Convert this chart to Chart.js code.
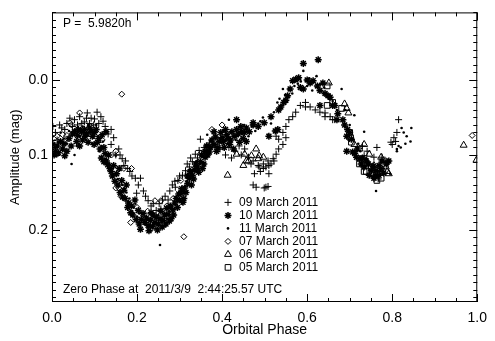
<!DOCTYPE html>
<html>
<head>
<meta charset="utf-8">
<script src="https://cdn.jsdelivr.net/npm/chart.js@4.4.1/dist/chart.umd.min.js"></script>
<style>
  html, body { margin: 0; padding: 0; background: #fff; }
</style>
</head>
<body>
<canvas id="lightcurve" width="495" height="341"></canvas>
<script>
// [orbital phase, amplitude (mag)] per night
var mar09 = [
  [0.002,0.062],[0.018,0.060],[0.023,0.064],[0.030,0.066],[0.012,0.080],[0.042,0.051],[0.053,0.053],
  [0.060,0.060],[0.070,0.058],[0.081,0.051],[0.083,0.044],[0.092,0.051],[0.106,0.043],[0.115,0.049],
  [0.098,0.060],[0.125,0.062],[0.139,0.066],[0.145,0.077],[0.139,0.086],[0.157,0.092],[0.150,0.100],
  [0.173,0.108],[0.169,0.114],[0.183,0.122],[0.196,0.131],[0.208,0.131],[0.215,0.148],[0.199,0.151],
  [0.226,0.161],[0.233,0.168],[0.245,0.174],[0.252,0.165],[0.260,0.160],[0.266,0.155],[0.273,0.160],
  [0.277,0.148],[0.289,0.135],[0.296,0.134],[0.290,0.143],[0.307,0.127],[0.314,0.121],[0.323,0.116],
  [0.330,0.109],[0.337,0.099],[0.342,0.104],[0.349,0.079],[0.358,0.090],[0.370,0.084],[0.388,0.077],
  [0.400,0.083],[0.416,0.090],[0.430,0.095],[0.440,0.088],
  [0.008,0.070],[0.035,0.058],[0.048,0.062],[0.065,0.049],[0.076,0.056],[0.088,0.058],[0.100,0.052],
  [0.110,0.058],[0.120,0.055],[0.132,0.072],[0.160,0.100],[0.165,0.105],[0.178,0.118],[0.188,0.128],
  [0.203,0.140],[0.220,0.155],[0.238,0.165],[0.256,0.172],[0.283,0.140],[0.300,0.128],[0.318,0.112],
  [0.326,0.104],[0.346,0.094],[0.365,0.095],[0.378,0.088],[0.395,0.092],[0.408,0.100],[0.422,0.104],
  [0.445,0.100],[0.468,0.112],[0.490,0.122],[0.515,0.112],
  [0.453,0.092],[0.462,0.103],[0.473,0.108],[0.476,0.125],[0.485,0.114],[0.487,0.116],[0.497,0.112],
  [0.497,0.118],[0.503,0.116],[0.508,0.108],[0.510,0.114],[0.520,0.105],[0.522,0.108],[0.527,0.099],
  [0.533,0.092],[0.533,0.079],[0.543,0.086],[0.543,0.070],[0.550,0.077],[0.550,0.062],[0.557,0.053],
  [0.566,0.049],[0.573,0.043],[0.584,0.034],[0.596,0.030],[0.596,0.036],[0.607,0.036],[0.619,0.040],
  [0.630,0.043],[0.642,0.044],[0.642,0.049],[0.654,0.049],[0.660,0.053],[0.665,0.053],[0.527,0.075],
  [0.473,0.140],[0.480,0.143],[0.499,0.144],[0.503,0.143],[0.508,0.142],[0.510,0.125],
  [0.730,0.088],[0.741,0.095],[0.734,0.101],[0.757,0.103],[0.764,0.090],[0.776,0.103],[0.785,0.108],
  [0.788,0.109],[0.767,0.132],[0.776,0.122],[0.797,0.083],[0.800,0.086],[0.804,0.077],[0.808,0.082],
  [0.811,0.070],[0.815,0.053]
];
var mar10 = [
  [0.002,0.086],[0.008,0.095],[0.012,0.088],[0.025,0.092],[0.030,0.101],[0.020,0.082],[0.040,0.078],
  [0.053,0.069],[0.058,0.082],[0.060,0.074],[0.065,0.088],[0.069,0.069],[0.076,0.066],[0.082,0.072],
  [0.088,0.064],[0.095,0.075],[0.099,0.086],[0.104,0.066],[0.110,0.078],[0.118,0.073],[0.122,0.090],
  [0.127,0.069],[0.122,0.109],[0.128,0.108],[0.133,0.100],[0.139,0.122],[0.145,0.114],[0.152,0.125],
  [0.158,0.118],[0.164,0.134],[0.169,0.147],[0.175,0.140],[0.180,0.164],[0.187,0.168],[0.185,0.177],
  [0.195,0.160],[0.203,0.174],[0.210,0.186],[0.219,0.190],[0.226,0.194],[0.208,0.199],[0.231,0.187],
  [0.238,0.180],
  [0.005,0.100],[0.015,0.097],[0.028,0.085],[0.035,0.095],[0.045,0.088],[0.048,0.072],[0.062,0.066],
  [0.072,0.080],[0.078,0.075],[0.085,0.083],[0.092,0.068],[0.100,0.070],[0.107,0.083],[0.113,0.092],
  [0.116,0.104],[0.125,0.098],[0.131,0.113],[0.136,0.118],[0.142,0.128],[0.148,0.135],[0.155,0.140],
  [0.160,0.150],[0.166,0.156],[0.172,0.158],[0.178,0.170],[0.190,0.180],[0.198,0.186],[0.205,0.192],
  [0.214,0.178],[0.222,0.184],[0.228,0.201],[0.236,0.195],[0.242,0.190],[0.248,0.200],[0.254,0.185],
  [0.259,0.196],[0.265,0.180],[0.270,0.171],[0.276,0.188],[0.278,0.168],[0.286,0.180],[0.292,0.158],
  [0.298,0.152],[0.305,0.145],[0.308,0.163],[0.315,0.150],[0.318,0.128],[0.325,0.122],[0.333,0.132],
  [0.338,0.112],[0.345,0.123],[0.352,0.100],[0.357,0.112],[0.364,0.088],[0.370,0.096],[0.376,0.080],
  [0.384,0.076],[0.390,0.090],[0.397,0.070],[0.403,0.082],[0.408,0.066],[0.414,0.078],[0.420,0.080],
  [0.430,0.075],[0.438,0.072],[0.444,0.062],[0.452,0.070],
  [0.233,0.177],[0.245,0.183],[0.250,0.192],[0.261,0.187],[0.256,0.175],[0.273,0.179],[0.268,0.192],
  [0.280,0.185],[0.284,0.173],[0.289,0.164],[0.295,0.170],[0.300,0.160],[0.303,0.151],[0.310,0.158],
  [0.312,0.144],[0.319,0.138],[0.323,0.131],[0.328,0.140],[0.330,0.127],[0.336,0.120],[0.342,0.116],
  [0.349,0.109],[0.354,0.118],[0.360,0.103],[0.360,0.095],[0.366,0.100],[0.372,0.090],[0.381,0.086],
  [0.381,0.069],[0.387,0.095],[0.393,0.082],[0.400,0.077],[0.405,0.090],[0.411,0.073],[0.418,0.086],
  [0.423,0.069],[0.427,0.092],[0.434,0.066],[0.434,0.053],[0.441,0.083],[0.446,0.069],[0.450,0.078],
  [0.457,0.064],[0.457,0.082],
  [0.464,0.069],[0.473,0.057],[0.473,0.060],[0.485,0.062],[0.499,0.057],[0.510,0.075],[0.515,0.049],
  [0.525,0.068],[0.531,0.066],[0.533,0.040],[0.538,0.036],[0.545,0.030],[0.550,0.027],[0.554,0.021],
  [0.560,0.012],[0.566,0.001],[0.573,-0.001],[0.580,-0.003],[0.584,0.010],[0.591,0.012],[0.591,-0.022],
  [0.600,0.000],[0.607,0.004],[0.614,0.001],[0.624,0.008],[0.626,-0.027],[0.630,0.014],[0.630,0.034],
  [0.637,0.004],[0.642,0.018],[0.649,0.021],[0.654,0.023],[0.660,0.034],[0.665,0.034],[0.670,0.053],
  [0.672,0.045],[0.684,0.053],[0.688,0.060],[0.695,0.066],[0.700,0.070],[0.693,0.075],[0.704,0.079],
  [0.693,0.095],[0.707,0.096],[0.716,0.103],[0.723,0.105],[0.727,0.112],[0.739,0.108],[0.734,0.116],
  [0.751,0.121],[0.762,0.121],[0.769,0.114],[0.776,0.108],[0.792,0.108],[0.769,0.127],[0.746,0.127],
  [0.757,0.131],[0.712,0.098],[0.718,0.092],[0.730,0.104],[0.744,0.112],[0.755,0.115],[0.760,0.128],
  [0.773,0.118],[0.780,0.124],[0.786,0.112]
];
var mar11 = [
  [0.002,0.075],[0.010,0.090],[0.020,0.070],[0.035,0.085],[0.046,0.112],[0.053,0.100],[0.050,0.070],
  [0.065,0.075],[0.072,0.062],[0.080,0.080],[0.090,0.070],[0.097,0.077],[0.104,0.060],[0.111,0.095],
  [0.120,0.082],[0.130,0.100],[0.135,0.112],[0.150,0.101],[0.160,0.120],[0.165,0.140],[0.175,0.150],
  [0.182,0.158],[0.192,0.170],[0.200,0.182],[0.212,0.178],[0.222,0.185],[0.230,0.200],[0.240,0.192],
  [0.254,0.220],[0.250,0.180],[0.262,0.178],[0.270,0.185],[0.282,0.168],[0.292,0.156],[0.300,0.150],
  [0.306,0.165],[0.316,0.135],[0.326,0.125],[0.335,0.115],[0.345,0.120],[0.352,0.100],[0.365,0.073],
  [0.368,0.095],[0.378,0.085],[0.390,0.092],[0.398,0.070],[0.408,0.080],[0.416,0.053],[0.425,0.075],
  [0.440,0.072],[0.452,0.060],[0.462,0.075],[0.478,0.068],[0.490,0.055],[0.508,0.073],[0.515,0.058],
  [0.522,0.043],[0.530,0.030],[0.543,0.012],[0.557,0.012],[0.565,0.018],[0.578,0.005],[0.591,-0.012],
  [0.600,0.008],[0.612,0.014],[0.622,-0.005],[0.640,0.010],[0.660,0.028],[0.681,0.012],[0.690,0.040],
  [0.711,0.047],[0.720,0.085],[0.734,0.069],[0.745,0.110],[0.762,0.148],[0.780,0.118],[0.795,0.125],
  [0.006,0.098],[0.015,0.083],[0.028,0.078],[0.040,0.068],[0.058,0.088],[0.068,0.065],[0.076,0.070],
  [0.085,0.060],[0.094,0.085],[0.108,0.075],[0.116,0.088],[0.125,0.105],[0.140,0.118],[0.145,0.125],
  [0.155,0.132],[0.170,0.145],[0.180,0.165],[0.188,0.175],[0.196,0.165],[0.205,0.178],[0.218,0.192],
  [0.226,0.196],[0.235,0.185],[0.245,0.198],[0.258,0.190],[0.266,0.195],[0.276,0.175],[0.288,0.172],
  [0.296,0.162],[0.310,0.148],[0.320,0.140],[0.330,0.120],[0.340,0.108],[0.348,0.112],[0.358,0.098],
  [0.372,0.082],[0.384,0.090],[0.394,0.078],[0.404,0.068],[0.412,0.085],[0.420,0.070],[0.432,0.080],
  [0.445,0.078],[0.458,0.066],[0.470,0.062],[0.485,0.058],[0.496,0.050],[0.535,0.025],[0.548,0.020],
  [0.570,0.008],[0.585,0.002],[0.605,-0.002],[0.630,0.006],[0.650,0.020],[0.670,0.040],[0.700,0.060],
  [0.725,0.095],[0.740,0.105],[0.752,0.118],[0.770,0.122],[0.790,0.112],
  [0.811,0.092],[0.811,0.095],[0.815,0.088],[0.820,0.090],[0.822,0.064],[0.827,0.070],[0.831,0.085],
  [0.834,0.075],[0.843,0.082],[0.845,0.064]
];
var mar07 = [
  [0.012,0.099],[0.012,0.075],[0.025,0.073],[0.030,0.082],[0.035,0.074],[0.042,0.057],[0.046,0.060],
  [0.065,0.044],[0.072,0.077],[0.090,0.062],[0.164,0.019],[0.150,0.095],[0.169,0.118],[0.187,0.118],
  [0.150,0.144],[0.157,0.144],[0.162,0.155],[0.185,0.190],[0.233,0.199],[0.242,0.161],[0.256,0.161],
  [0.310,0.209],[0.303,0.134],[0.376,0.066],[0.400,0.060],[0.988,0.074],
  [0.005,0.088],[0.055,0.068],[0.080,0.070],[0.118,0.080],[0.140,0.100],[0.200,0.170],[0.215,0.185],
  [0.225,0.175],[0.270,0.168],[0.285,0.158],[0.330,0.120],[0.350,0.098]
];
var mar06 = [
  [0.413,0.127],[0.434,0.099],[0.450,0.114],[0.453,0.099],[0.457,0.108],[0.462,0.108],[0.469,0.101],
  [0.485,0.105],[0.487,0.101],[0.497,0.103],[0.480,0.092],[0.651,0.004],[0.688,0.032],[0.697,0.044],
  [0.693,0.038],[0.711,0.086],[0.723,0.092],[0.734,0.086],[0.739,0.108],[0.746,0.099],[0.757,0.114],
  [0.774,0.103],[0.785,0.116],[0.788,0.122],[0.792,0.125],[0.968,0.087],[0.998,0.107]
];
var mar05 = [
  [0.647,0.008],[0.647,0.034],[0.660,0.030],[0.681,0.038],[0.700,0.070],[0.702,0.077],[0.704,0.083],
  [0.723,0.112],[0.734,0.112],[0.734,0.122],[0.739,0.122],[0.751,0.116],[0.753,0.125],[0.764,0.125],
  [0.764,0.134],[0.774,0.131]
];

var nights = ['09 March 2011', '10 March 2011', '11 March 2011', '07 March 2011', '06 March 2011', '05 March 2011'];
var xTicks = [0.0, 0.2, 0.4, 0.6, 0.8, 1.0];
var yTicks = [0.0, 0.1, 0.2];
var periodText = 'P =  5.9820h';
var zeroText = 'Zero Phase at  2011/3/9  2:44:25.57 UTC';

var FONT = "'Liberation Sans', Arial, Helvetica, sans-serif";

// marker look per night, same order as nights
var markers = [
  { style: 'cross',    radius: 3.5, fill: false, width: 1 },
  { style: 'star',     radius: 3.5, fill: false, width: 1.5 },
  { style: 'circle',   radius: 1.3, fill: true,  width: 0 },
  { style: 'rectRot',  radius: 3,   fill: false, width: 1 },
  { style: 'triangle', radius: 4,   fill: false, width: 1 },
  { style: 'rect',     radius: 4,   fill: false, width: 1 }
];

function toPoints(arr) {
  return arr.map(function (p) { return { x: p[0], y: p[1] }; });
}

var series = [mar09, mar10, mar11, mar07, mar06, mar05];
var datasets = series.map(function (s, i) {
  var m = markers[i];
  return {
    label: nights[i],
    data: toPoints(s),
    pointStyle: m.style,
    pointRadius: m.radius,
    pointBorderWidth: m.width,
    pointBorderColor: '#000',
    pointBackgroundColor: m.fill ? '#000' : 'rgba(0,0,0,0)',
    showLine: false
  };
});

var decorations = {
  id: 'decorations',
  afterDraw: function (chart) {
    var ctx = chart.ctx;
    var a = chart.chartArea;
    var xs = chart.scales.x, ys = chart.scales.y;
    ctx.save();
    ctx.strokeStyle = '#000';
    ctx.lineWidth = 1;

    // frame
    ctx.strokeRect(a.left + 0.5, a.top + 0.5, a.right - a.left - 1, a.bottom - a.top - 1);

    // inward ticks on all four sides
    ctx.beginPath();
    for (var i = 0; i <= 20; i++) {
      var xv = i * 0.05;
      var xp = Math.round(xs.getPixelForValue(xv)) + 0.5;
      var len = (i % 4 === 0) ? 8 : 4;
      ctx.moveTo(xp, a.bottom); ctx.lineTo(xp, a.bottom - len);
      ctx.moveTo(xp, a.top); ctx.lineTo(xp, a.top + len);
    }
    for (var j = -9; j <= 29; j++) {
      var yv = j / 100;
      if (yv < ys.min || yv > ys.max) continue;
      var yp = Math.round(ys.getPixelForValue(yv)) + 0.5;
      var ylen = (j % 10 === 0) ? 8 : 4;
      ctx.moveTo(a.left, yp); ctx.lineTo(a.left + ylen, yp);
      ctx.moveTo(a.right, yp); ctx.lineTo(a.right - ylen, yp);
    }
    ctx.stroke();

    // texts
    ctx.fillStyle = '#000';
    ctx.textAlign = 'left';
    ctx.textBaseline = 'alphabetic';
    ctx.font = '12px ' + FONT;
    ctx.fillText(periodText, a.left + 11, a.top + 15);
    ctx.fillText(zeroText, a.left + 11, a.bottom - 9);

    // legend
    for (var k = 0; k < nights.length; k++) {
      var ly = a.top + 190 + k * 13;
      var lx = a.left + 176;
      var m = markers[k];
      ctx.fillStyle = m.fill ? '#000' : 'rgba(0,0,0,0)';
      ctx.strokeStyle = '#000';
      ctx.lineWidth = m.width;
      Chart.helpers.drawPoint(ctx, { pointStyle: m.style, radius: m.radius, borderWidth: m.width, rotation: 0 }, lx, ly);
      ctx.fillStyle = '#000';
      ctx.fillText(nights[k], lx + 11, ly + 4);
    }

    // axis titles
    ctx.font = '14px ' + FONT;
    ctx.textAlign = 'center';
    ctx.fillText('Orbital Phase', (a.left + a.right) / 2, 334);
    ctx.save();
    ctx.translate(15, (a.top + a.bottom) / 2);
    ctx.rotate(-Math.PI / 2);
    ctx.textBaseline = 'middle';
    ctx.font = '13px ' + FONT;
    ctx.fillText('Amplitude (mag)', 0, 0);
    ctx.restore();

    ctx.restore();
  }
};

new Chart(document.getElementById('lightcurve'), {
  type: 'scatter',
  data: { datasets: datasets },
  options: {
    responsive: false,
    animation: false,
    devicePixelRatio: 1,
    layout: { padding: { top: 5, right: 10, left: 0, bottom: 0 } },
    plugins: { legend: { display: false }, tooltip: { enabled: false } },
    scales: {
      x: {
        type: 'linear', min: 0, max: 1,
        grid: { display: false, drawTicks: false },
        border: { display: false },
        ticks: {
          color: '#000', font: { family: FONT, size: 14 }, padding: 8,
          maxRotation: 0, autoSkip: false,
          callback: function (v) { return Number(v).toFixed(1); }
        },
        afterBuildTicks: function (s) { s.ticks = xTicks.map(function (v) { return { value: v }; }); },
        afterFit: function (s) { s.height = 39; }
      },
      y: {
        type: 'linear', min: -0.09, max: 0.296, reverse: true,
        grid: { display: false, drawTicks: false },
        border: { display: false },
        ticks: {
          color: '#000', font: { family: FONT, size: 14 }, padding: 4,
          autoSkip: false,
          callback: function (v) { return Number(v).toFixed(1); }
        },
        afterBuildTicks: function (s) { s.ticks = yTicks.map(function (v) { return { value: v }; }); },
        afterFit: function (s) { s.height = s.height; s.width = 52; }
      }
    }
  },
  plugins: [decorations]
});
</script>
</body>
</html>
